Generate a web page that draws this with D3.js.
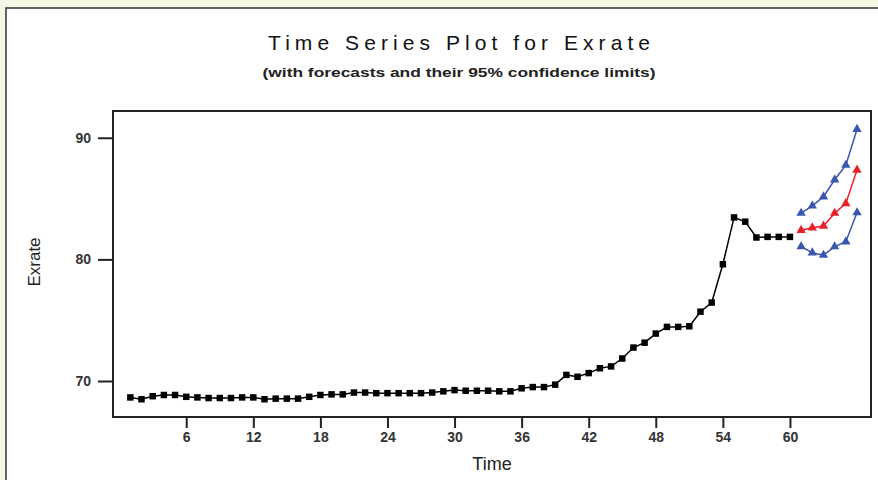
<!DOCTYPE html>
<html>
<head>
<meta charset="utf-8">
<script src="https://cdn.jsdelivr.net/npm/d3@7"></script>
<style>
  body { margin: 0; background: #f3f7e4; }
  svg { display: block; }
</style>
</head>
<body>
<svg id="svg" width="878" height="480"></svg>
<script>
// observed series, t = 1..60
const actual = [68.65, 68.5, 68.75, 68.85, 68.85, 68.7, 68.65, 68.6, 68.6, 68.6,
  68.65, 68.65, 68.5, 68.55, 68.55, 68.55, 68.7, 68.85, 68.9, 68.9,
  69.05, 69.05, 69.0, 69.0, 69.0, 69.0, 69.0, 69.05, 69.15, 69.25,
  69.2, 69.2, 69.2, 69.15, 69.15, 69.4, 69.5, 69.5, 69.7, 70.5,
  70.35, 70.65, 71.05, 71.2, 71.85, 72.75, 73.15, 73.9, 74.45, 74.45,
  74.5, 75.7, 76.45, 79.6, 83.45, 83.1, 81.8, 81.85, 81.85, 81.85]
// forecasts for t = 61..66
const forecast = [82.4, 82.6, 82.75, 83.8, 84.6, 87.35]
const upper = [83.8, 84.4, 85.15, 86.55, 87.75, 90.7]
const lower = [81.05, 80.55, 80.35, 81.05, 81.45, 83.85]
const xTicks = [6, 12, 18, 24, 30, 36, 42, 48, 54, 60]
const yTicks = [70, 80, 90]

const svg = d3.select("#svg")

// outer frame
svg.append("rect")
  .attr("x", 6).attr("y", 8).attr("width", 880).attr("height", 500)
  .attr("fill", "#fff").attr("stroke", "#333").attr("stroke-width", 1.5)

const x = d3.scaleLinear().domain([-0.55, 67.25]).range([113, 871])
const y = d3.scaleLinear().domain([67.04, 92.2]).range([417, 111])

const font = "Arial, 'Liberation Sans', sans-serif"

svg.append("text")
  .attr("x", 459).attr("y", 50)
  .attr("text-anchor", "middle")
  .attr("font-family", font).attr("font-size", 21)
  .attr("textLength", 382).attr("lengthAdjust", "spacing")
  .attr("fill", "#111")
  .text("Time Series Plot for Exrate")

svg.append("text")
  .attr("x", 459).attr("y", 77)
  .attr("text-anchor", "middle")
  .attr("font-family", font).attr("font-size", 12).attr("font-weight", "bold")
  .attr("textLength", 393).attr("lengthAdjust", "spacingAndGlyphs")
  .attr("fill", "#222")
  .text("(with forecasts and their 95% confidence limits)")

// axes
const xAxis = svg.append("g")
  .attr("transform", "translate(0,417)")
  .call(d3.axisBottom(x).tickValues(xTicks).tickSize(11).tickPadding(4))
const yAxis = svg.append("g")
  .attr("transform", "translate(113,0)")
  .call(d3.axisLeft(y).tickValues(yTicks).tickSize(15).tickPadding(7))

for (const g of [xAxis, yAxis]) {
  g.select(".domain").remove()
  g.selectAll("line").attr("stroke", "#222").attr("stroke-width", 2)
  g.selectAll("text")
    .attr("font-family", font).attr("font-size", 14).attr("font-weight", "bold")
    .attr("fill", "#333")
}

svg.append("text")
  .attr("x", 492).attr("y", 470)
  .attr("text-anchor", "middle")
  .attr("font-family", font).attr("font-size", 18)
  .attr("fill", "#222")
  .text("Time")

svg.append("text")
  .attr("transform", "translate(40,262) rotate(-90)")
  .attr("text-anchor", "middle")
  .attr("font-family", font).attr("font-size", 17)
  .attr("fill", "#222")
  .text("Exrate")

// plot frame
svg.append("rect")
  .attr("x", 113).attr("y", 111).attr("width", 758).attr("height", 306)
  .attr("fill", "none").attr("stroke", "#222").attr("stroke-width", 2)

const line = d3.line().x(d => x(d.t)).y(d => y(d.v))

function drawSeries(values, t0, color, symbol, size) {
  const data = values.map((v, i) => ({t: t0 + i, v: v}))
  svg.append("path")
    .datum(data)
    .attr("d", line)
    .attr("fill", "none")
    .attr("stroke", color)
    .attr("stroke-width", 1.5)
  svg.append("g")
    .selectAll("path")
    .data(data)
    .enter().append("path")
    .attr("d", d3.symbol().type(symbol).size(size))
    .attr("transform", d => "translate(" + x(d.t) + "," + y(d.v) + ")")
    .attr("fill", color)
}

drawSeries(actual, 1, "#000", d3.symbolSquare, 42)
drawSeries(upper, 61, "#3a56b0", d3.symbolTriangle, 38)
drawSeries(lower, 61, "#3a56b0", d3.symbolTriangle, 38)
drawSeries(forecast, 61, "#e8202a", d3.symbolTriangle, 38)
</script>
</body>
</html>
